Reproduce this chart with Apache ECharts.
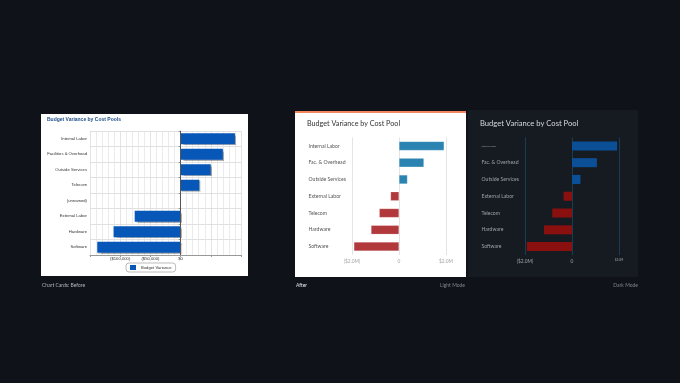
<!DOCTYPE html>
<html>
<head>
<meta charset="utf-8">
<script src="https://cdn.jsdelivr.net/npm/echarts@6/dist/echarts.min.js"></script>
<style>
  html, body { margin: 0; padding: 0; background: #10121a; }
  #chart { width: 680px; height: 383px; }
</style>
</head>
<body>
<div id="chart"></div>
<script>
// "before" card data
var beforeCategories = ['Internal Labor', 'Facilities & Overhead', 'Outside Services', 'Telecom',
  '(unnamed)', 'External Labor', 'Hardware', 'Software'];
var beforeValues = [90000, 70000, 50000, 31000, null, -76000, -111000, -138000];
var beforeTickValues = [-100000, -50000, 0];
var beforeTickLabels = ['($100,000)', '($50,000)', '$0'];

// "after" cards data (light + dark), in $M
var afterCategories = ['Internal Labor', 'Fac. & Overhead', 'Outside Services', 'External Labor',
  'Telecom', 'Hardware', 'Software'];
var afterValues = [1.92, 1.06, 0.36, -0.36, -0.84, -1.19, -1.92];
var afterTickValues = [-2, 0, 2];
var afterTickLabels = ['($2.0M)', '0', '$2.0M'];

var font = 'Lato, "Noto Sans", sans-serif';
var oldFont = '"Liberation Sans", Arial, sans-serif';

function tickLabel(values, labels) {
  return function(v) {
    var i = values.indexOf(v);
    return i < 0 ? '' : labels[i];
  };
}

var myChart = echarts.init(document.getElementById('chart'));

var option = {
  backgroundColor: '#10121a',
  animation: false,
  graphic: [
    // cards
    { type: 'rect', z: -10, shape: { x: 41, y: 114, width: 207, height: 162 }, style: { fill: '#ffffff' } },
    { type: 'rect', z: -10, shape: { x: 295, y: 111, width: 171, height: 166 }, style: { fill: '#ffffff' } },
    { type: 'rect', z: -9, shape: { x: 295, y: 111, width: 171, height: 2 }, style: { fill: '#f2865c' } },
    { type: 'rect', z: -10, shape: { x: 468, y: 110, width: 170, height: 167 }, style: { fill: '#161b22' } },
    // captions
    { type: 'text', left: 42, top: 283, style: { text: 'Chart Cards: Before', fill: '#b4b7bd', font: '5px ' + font } },
    { type: 'text', left: 296, top: 283, style: { text: 'After', fill: '#e6e7ea', font: '5px ' + font } },
    { type: 'text', right: 680 - 465, top: 283, style: { text: 'Light Mode', fill: '#80838a', font: '5px ' + font } },
    { type: 'text', right: 680 - 638, top: 283, style: { text: 'Dark Mode', fill: '#80838a', font: '5px ' + font } }
  ],
  title: [
    { text: 'Budget Variance by Cost Pools', left: 47, top: 117, padding: 0,
      textStyle: { fontSize: 5, fontWeight: 'bold', color: '#1d4e89', fontFamily: oldFont } },
    { text: 'Budget Variance by Cost Pool', left: 307, top: 120, padding: 0,
      textStyle: { fontSize: 7.2, fontWeight: 'normal', color: '#333333', fontFamily: font } },
    { text: 'Budget Variance by Cost Pool', left: 480, top: 120, padding: 0,
      textStyle: { fontSize: 7.6, fontWeight: 'normal', color: '#d5d9de', fontFamily: font } }
  ],
  legend: {
    data: ['Budget Variance'],
    left: 126, top: 263,
    itemWidth: 6, itemHeight: 5, itemGap: 2,
    icon: 'rect',
    padding: [2, 4],
    borderColor: '#bbbbbb', borderWidth: 1, borderRadius: 3,
    textStyle: { fontSize: 4.2, color: '#333', fontFamily: oldFont }
  },
  grid: [
    { left: 90, top: 131, width: 151, height: 124 },
    { left: 352, top: 137.5, width: 94, height: 117.5 },
    { left: 525, top: 137.5, width: 94, height: 117.5 }
  ],
  xAxis: [
    {
      gridIndex: 0, type: 'value', min: -150000, max: 100000, interval: 50000,
      axisLine: { show: true, lineStyle: { color: '#999' } },
      axisTick: { show: true, length: 2, lineStyle: { color: '#999' } },
      axisLabel: { fontSize: 4.2, color: '#333', margin: 2, formatter: tickLabel(beforeTickValues, beforeTickLabels),
        fontFamily: oldFont },
      splitLine: { show: true, lineStyle: { color: '#d8d8d8', width: 0.7 } },
      minorTick: { show: false, splitNumber: 5 },
      minorSplitLine: { show: true, lineStyle: { color: '#e2e2e2', width: 0.7 } }
    },
    {
      gridIndex: 1, type: 'value', min: -2, max: 2, interval: 2,
      axisLine: { show: false }, axisTick: { show: false },
      axisLabel: { fontSize: 4.8, color: '#a5a5a5', margin: 4, formatter: tickLabel(afterTickValues, afterTickLabels), fontFamily: font },
      splitLine: { show: true, lineStyle: { color: '#e4e4e4', width: 1 } }
    },
    {
      gridIndex: 2, type: 'value', min: -2, max: 2, interval: 2,
      axisLine: { show: false }, axisTick: { show: false },
      axisLabel: {
        fontSize: 4.8, color: '#9aa1a9', margin: 4, fontFamily: font,
        formatter: function(v) {
          var s = tickLabel(afterTickValues, afterTickLabels)(v);
          return v === 2 ? '{tiny|' + s + '}' : s;
        },
        rich: { tiny: { fontSize: 3, color: '#9aa1a9', fontFamily: font } }
      },
      splitLine: { show: true, lineStyle: { color: '#183c54', width: 1 } }
    }
  ],
  yAxis: [
    {
      gridIndex: 0, type: 'category', inverse: true, data: beforeCategories,
      axisLine: { show: true, lineStyle: { color: '#999' } },
      axisTick: { show: true, length: 2, lineStyle: { color: '#999' } },
      axisLabel: { fontSize: 4.2, color: '#333', margin: 3, fontFamily: oldFont },
      splitLine: { show: true, lineStyle: { color: '#d2d2d2', width: 0.7 } }
    },
    {
      gridIndex: 1, type: 'category', inverse: true, data: afterCategories,
      axisLine: { show: false }, axisTick: { show: false },
      axisLabel: { fontSize: 5.1, color: '#555', align: 'left', margin: 43.5, fontFamily: font }
    },
    {
      gridIndex: 2, type: 'category', inverse: true, data: afterCategories,
      axisLine: { show: false }, axisTick: { show: false },
      axisLabel: {
        fontSize: 5.1, color: '#9aa1a9', align: 'left', margin: 43.5, fontFamily: font,
        formatter: function(v, i) { return i === 0 ? '{tiny|' + v + '}' : v; },
        rich: { tiny: { fontSize: 2.4, color: '#9aa1a9', fontFamily: font } }
      }
    }
  ],
  series: [
    {
      name: 'Budget Variance', type: 'bar', xAxisIndex: 0, yAxisIndex: 0,
      data: beforeValues, barWidth: 11,
      itemStyle: { color: '#0757b8', shadowColor: 'rgba(0,0,0,0.3)', shadowBlur: 1, shadowOffsetX: 1, shadowOffsetY: 1 },
      markLine: {
        silent: true, symbol: 'none', label: { show: false },
        lineStyle: { color: '#555', width: 1, type: 'solid' },
        data: [{ xAxis: 0 }]
      }
    },
    {
      name: 'light', type: 'bar', xAxisIndex: 1, yAxisIndex: 1,
      data: afterValues, barWidth: 9,
      itemStyle: {
        color: function(p) { return p.value >= 0 ? '#2a83b0' : '#b2393b'; },
        borderColor: 'rgba(255,255,255,0.35)', borderWidth: 0.5
      }
    },
    {
      name: 'dark', type: 'bar', xAxisIndex: 2, yAxisIndex: 2,
      data: afterValues, barWidth: 9,
      itemStyle: { color: function(p) { return p.value >= 0 ? '#0b4f96' : '#8a1010'; } }
    }
  ]
};

myChart.setOption(option);
</script>
</body>
</html>
